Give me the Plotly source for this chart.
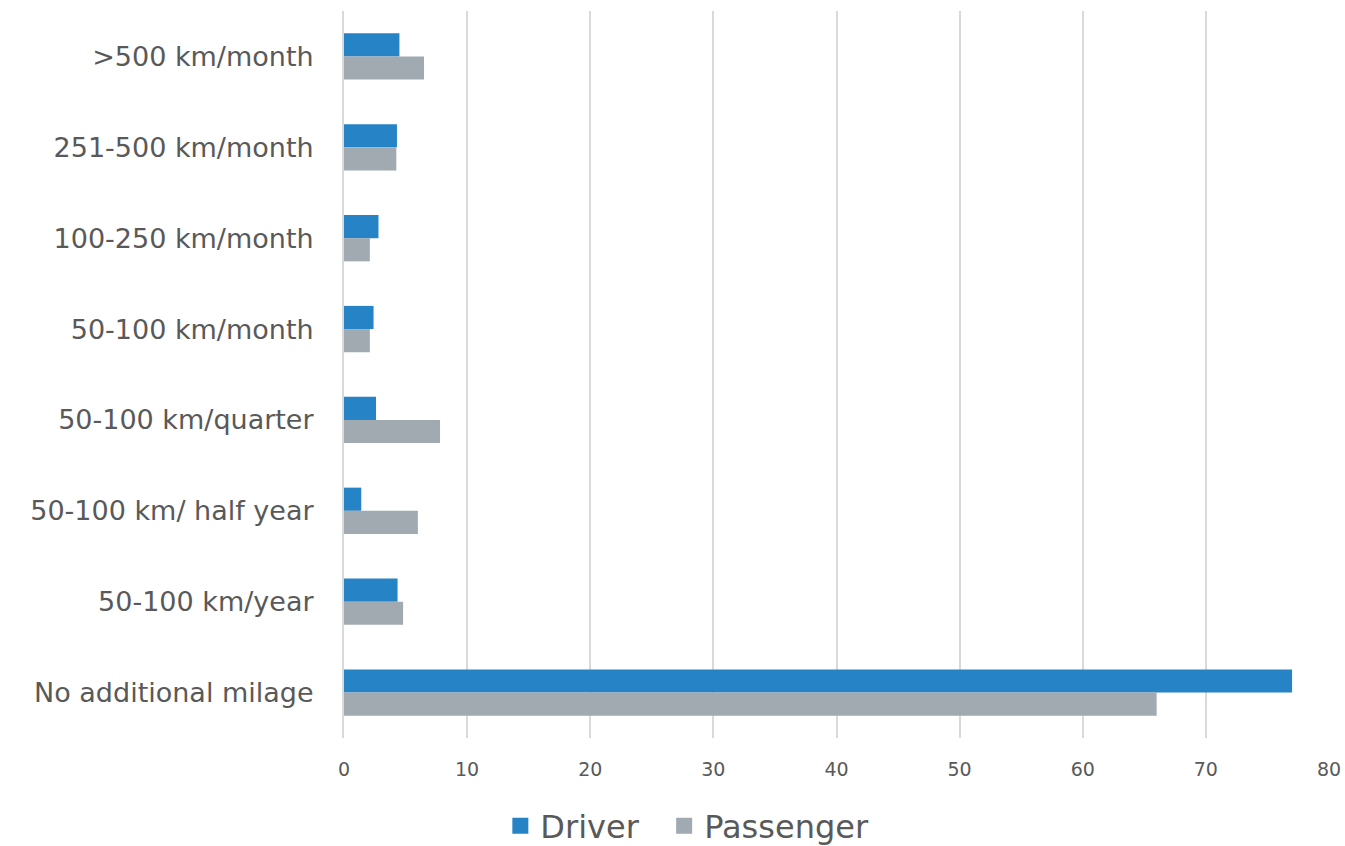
# mileage.py
# 追加走行距離の分布：Driver / Passenger の横棒グラフ

import plotly.graph_objects as go

categories = [
    ">500 km/month",
    "251-500 km/month",
    "100-250 km/month",
    "50-100 km/month",
    "50-100 km/quarter",
    "50-100 km/ half year",
    "50-100 km/year",
    "No additional milage",
]
driver = [4.5, 4.3, 2.8, 2.4, 2.6, 1.4, 4.35, 77.0]
passenger = [6.5, 4.25, 2.1, 2.1, 7.8, 6.0, 4.8, 66.0]
x_ticks = [0, 10, 20, 30, 40, 50, 60, 70, 80]

FONT = "DejaVu Sans"
TEXT = "#595959"
COLORS = {"Driver": "#2683C6", "Passenger": "#A0AAB0"}

fig = go.Figure()
for name, vals in [("Driver", driver), ("Passenger", passenger)]:
    fig.add_trace(go.Bar(
        y=categories, x=vals, name=name, orientation="h",
        marker=dict(color=COLORS[name], line=dict(width=0)),
        showlegend=False,
    ))
    # 凡例用の四角マーカー（バーの凡例記号は小さいので）
    # 項目間の間隔を空けるため Driver の後ろに nbsp を足す
    label = name + "\u00a0\u00a0" if name == "Driver" else name
    fig.add_trace(go.Scatter(
        x=[None], y=[None], mode="markers", name=label,
        marker=dict(symbol="square", size=20, color=COLORS[name]),
    ))

fig.update_layout(
    width=1345,
    height=846,
    barmode="group",
    bargap=0.49,
    bargroupgap=0,
    plot_bgcolor="white",
    paper_bgcolor="white",
    margin=dict(l=344, r=16, t=11, b=108, autoexpand=False),
    font=dict(family=FONT, color=TEXT),
    showlegend=True,
    legend=dict(
        orientation="h", xref="container", x=0.372, xanchor="left",
        y=-0.083, yanchor="top",
        font=dict(size=32, color=TEXT),
        itemwidth=30,
    ),
    xaxis=dict(
        range=[0, 80],
        tickvals=x_ticks,
        showgrid=True, gridcolor="#D9D9D9", gridwidth=1.5,
        zeroline=False, showline=False,
        tickfont=dict(size=19, color=TEXT),
        ticklabelstandoff=18,
        automargin=False,
        fixedrange=True,
    ),
    yaxis=dict(
        autorange="reversed",
        showline=True, linecolor="#D9D9D9", linewidth=2,
        showgrid=False,
        tickfont=dict(size=27, color=TEXT),
        ticklabelstandoff=23,
        automargin=False,
        fixedrange=True,
    ),
)

# ページの余白を消して 1345x846 にぴったり合わせる
fig.write_html(
    "out.html",
    config={"displayModeBar": False},
    post_script="document.body.style.margin='0px';",
)
